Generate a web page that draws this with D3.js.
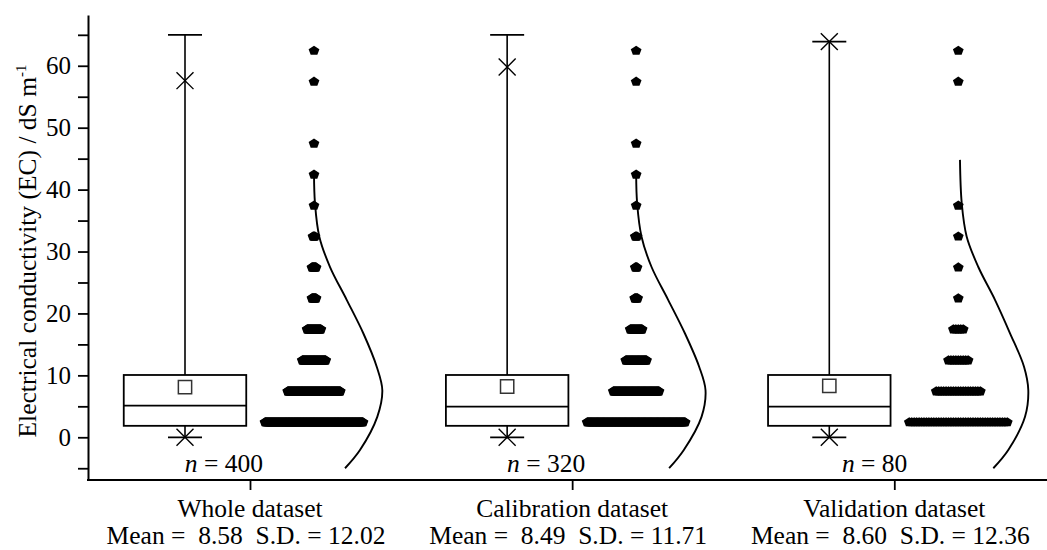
<!DOCTYPE html>
<html>
<head>
<meta charset="utf-8">
<script src="https://cdn.jsdelivr.net/npm/d3@7"></script>
<style>
  body { margin: 0; background: #fff; }
  svg { display: block; }
  svg text { font-family: "Liberation Serif", "Times New Roman", serif; fill: #000; }
</style>
</head>
<body>
<div id="chart"></div>
<script>
// groups
var categories = ["Whole dataset", "Calibration dataset", "Validation dataset"];
var sampleSizes = [400, 320, 80];
var means = ["8.58", "8.49", "8.60"];
var sds = ["12.02", "11.71", "12.36"];

// box stats (EC, dS/m)
var q1 = [1.85, 1.85, 1.85];
var medians = [5.1, 4.95, 4.95];
var q3 = [10.06, 10.06, 10.06];
var meanMarks = [8.1, 8.2, 8.3];
var whiskerLow = [0, 0, 0];
var whiskerHigh = [65, 65, 63.9];
var pctLow = [0, 0, 0];
var pctHigh = [57.6, 59.8, 63.9];

// binned data points (bin centres) and counts per group
var binCenters = [2.5, 7.5, 12.5, 17.5, 22.5, 27.5, 32.5, 37.5, 42.5, 47.5, 52.5, 57.5, 62.5];
var wholeCounts = [193, 104, 47, 28, 9, 9, 5, 1, 1, 1, 0, 1, 1];
var calibCounts = [166, 78, 36, 21, 6, 4, 4, 1, 1, 1, 0, 1, 1];
var validCounts = [41, 19, 9, 5, 1, 1, 1, 1, 0, 0, 0, 1, 1];

// distribution curves: EC level and relative density
var wholeCurveEC = [42.6, 37.8, 32.4, 27.5, 22.2, 16.8, 11.4, 7.6, 3.3, -2.05, -5];
var wholeCurveDens = [0, 0.014, 0.076, 0.229, 0.467, 0.704, 0.896, 0.976, 0.904, 0.657, 0.443];
var calibCurveEC = [42.6, 37.8, 32.4, 27.5, 22.2, 16.8, 11.4, 7.6, 3.3, -2.05, -5];
var calibCurveDens = [0, 0.014, 0.077, 0.22, 0.457, 0.696, 0.9, 0.991, 0.934, 0.681, 0.471];
var validCurveEC = [44.8, 37.8, 32.4, 27.5, 22.2, 16.8, 11.4, 7.6, 3.3, -2.05, -5];
var validCurveDens = [0.024, 0.049, 0.12, 0.286, 0.524, 0.739, 0.939, 1.0, 0.953, 0.714, 0.5];

var majorTicks = [0, 10, 20, 30, 40, 50, 60];
var minorTicks = [-5, 5, 15, 25, 35, 45, 55, 65];

var counts = [wholeCounts, calibCounts, validCounts];
var curves = [[wholeCurveEC, wholeCurveDens], [calibCurveEC, calibCurveDens], [validCurveEC, validCurveDens]];

// layout
var W = 1047, H = 550;
var axisLeftX = 88, axisBottomY = 480;
var boxOffset = -65, boxWidth = 122.5, capWidth = 34;
var dotOffset = 64, rowSpan = 98;

var svg = d3.select("#chart").append("svg")
    .attr("width", W)
    .attr("height", H);

var y = d3.scaleLinear().domain([-6.9, 68.2]).range([axisBottomY, 15]);
var x = d3.scalePoint().domain(categories).range([250, 894.3]);
var dens = d3.scaleLinear().domain([0, 1]).range([dotOffset, dotOffset + 70]);

// y axis
var yAxis = svg.append("g")
    .attr("transform", "translate(" + axisLeftX + ",0)")
    .call(d3.axisLeft(y).tickValues(majorTicks).tickSize(10).tickSizeOuter(0).tickPadding(7).tickFormat(d3.format("d")));
yAxis.attr("font-family", null);
yAxis.select(".domain").attr("stroke-width", 2);
yAxis.selectAll(".tick line").attr("stroke-width", 1.8);
yAxis.selectAll(".tick text")
    .attr("font-size", 25);

svg.append("g")
    .attr("transform", "translate(" + axisLeftX + ",0)")
    .call(d3.axisLeft(y).tickValues(minorTicks).tickSize(10).tickFormat(""))
    .call(function(g) { g.select(".domain").remove(); })
    .selectAll(".tick line").attr("stroke-width", 1.8);

// x axis
svg.append("line")
    .attr("x1", axisLeftX - 1).attr("x2", W)
    .attr("y1", axisBottomY).attr("y2", axisBottomY)
    .attr("stroke", "#000").attr("stroke-width", 2);

var xAxis = svg.append("g")
    .attr("transform", "translate(0," + axisBottomY + ")")
    .call(d3.axisBottom(x).tickSize(10).tickFormat(""));
xAxis.select(".domain").remove();
xAxis.selectAll(".tick line").attr("stroke-width", 1.8);

svg.selectAll(".catlabel")
    .data(categories)
    .enter()
    .append("text")
    .attr("x", function(d) { return x(d); })
    .attr("y", 517)
    .attr("text-anchor", "middle")
    .attr("font-size", 25.5)
    .text(function(d) { return d; });

svg.selectAll(".statlabel")
    .data(categories)
    .enter()
    .append("text")
    .attr("x", function(d) { return x(d) - 4; })
    .attr("y", 544)
    .attr("text-anchor", "middle")
    .attr("font-size", 25.5)
    .style("white-space", "pre")
    .text(function(d, i) { return "Mean =  " + means[i] + "  S.D. = " + sds[i]; });

// y title
var ytitle = svg.append("text")
    .attr("transform", "translate(35.5,251) rotate(-90)")
    .attr("text-anchor", "middle")
    .attr("font-size", 25.5);
ytitle.append("tspan").text("Electrical conductivity (EC) / dS m");
ytitle.append("tspan").attr("font-size", 15).attr("dy", -10).text("-1");

// boxes
var groups = svg.selectAll(".grp")
    .data(categories)
    .enter()
    .append("g")
    .attr("class", "grp");

groups.append("line")
    .attr("x1", function(d) { return x(d) + boxOffset; })
    .attr("x2", function(d) { return x(d) + boxOffset; })
    .attr("y1", function(d, i) { return y(q3[i]); })
    .attr("y2", function(d, i) { return y(whiskerHigh[i]); })
    .attr("stroke", "#000").attr("stroke-width", 1.6);

groups.append("line")
    .attr("x1", function(d) { return x(d) + boxOffset; })
    .attr("x2", function(d) { return x(d) + boxOffset; })
    .attr("y1", function(d, i) { return y(q1[i]); })
    .attr("y2", function(d, i) { return y(whiskerLow[i]); })
    .attr("stroke", "#000").attr("stroke-width", 1.6);

[whiskerHigh, whiskerLow].forEach(function(arr) {
  groups.append("line")
      .attr("x1", function(d) { return x(d) + boxOffset - capWidth / 2; })
      .attr("x2", function(d) { return x(d) + boxOffset + capWidth / 2; })
      .attr("y1", function(d, i) { return y(arr[i]); })
      .attr("y2", function(d, i) { return y(arr[i]); })
      .attr("stroke", "#000").attr("stroke-width", 1.8);
});

groups.append("rect")
    .attr("x", function(d) { return x(d) + boxOffset - boxWidth / 2; })
    .attr("y", function(d, i) { return y(q3[i]); })
    .attr("width", boxWidth)
    .attr("height", function(d, i) { return y(q1[i]) - y(q3[i]); })
    .attr("fill", "#fff").attr("stroke", "#000").attr("stroke-width", 1.8);

groups.append("line")
    .attr("x1", function(d) { return x(d) + boxOffset - boxWidth / 2; })
    .attr("x2", function(d) { return x(d) + boxOffset + boxWidth / 2; })
    .attr("y1", function(d, i) { return y(medians[i]); })
    .attr("y2", function(d, i) { return y(medians[i]); })
    .attr("stroke", "#000").attr("stroke-width", 1.8);

groups.append("path")
    .attr("transform", function(d, i) { return "translate(" + (x(d) + boxOffset) + "," + y(meanMarks[i]) + ")"; })
    .attr("d", d3.symbol().type(d3.symbolSquare).size(176))
    .attr("fill", "#fff").attr("stroke", "#333").attr("stroke-width", 1.5);

[pctHigh, pctLow].forEach(function(arr) {
  groups.append("path")
      .attr("transform", function(d, i) { return "translate(" + (x(d) + boxOffset) + "," + y(arr[i]) + ")"; })
      .attr("d", d3.symbol().type(d3.symbolTimes).size(190))
      .attr("fill", "none").attr("stroke", "#000").attr("stroke-width", 1.4);
});

// n labels
var nl = groups.append("text")
    .attr("x", function(d) { return x(d) + 13; })
    .attr("y", 472)
    .attr("text-anchor", "end")
    .attr("font-size", 25.5);
nl.append("tspan").attr("font-style", "italic").text("n");
nl.append("tspan").text(function(d, i) { return " = " + sampleSizes[i]; });

// pentagon markers
var pentagon = {
  draw: function(ctx, size) {
    var r = Math.sqrt(size);
    for (var k = 0; k < 5; k++) {
      var a = -Math.PI / 2 + k * 2 * Math.PI / 5;
      var px = r * Math.cos(a), py = r * Math.sin(a) * 0.9 + 0.08 * r;
      if (k === 0) ctx.moveTo(px, py); else ctx.lineTo(px, py);
    }
    ctx.closePath();
  }
};

categories.forEach(function(cat, gi) {
  var c = counts[gi];
  var step = rowSpan / (d3.max(c) - 1);
  var pts = [];
  binCenters.forEach(function(b, bi) {
    d3.range(c[bi]).forEach(function(k) {
      pts.push({ v: b, dx: (k - (c[bi] - 1) / 2) * step });
    });
  });
  svg.append("g").selectAll("path")
      .data(pts)
      .enter()
      .append("path")
      .attr("transform", function(d) { return "translate(" + (x(cat) + dotOffset + d.dx) + "," + y(d.v) + ")"; })
      .attr("d", d3.symbol().type(pentagon).size(32))
      .attr("fill", "#000");

  var line = d3.line()
      .x(function(d) { return x(cat) + dens(d[1]); })
      .y(function(d) { return y(d[0]); })
      .curve(d3.curveCatmullRom);
  svg.append("path")
      .datum(d3.zip(curves[gi][0], curves[gi][1]))
      .attr("d", line)
      .attr("fill", "none")
      .attr("stroke", "#000")
      .attr("stroke-width", 1.9);
});
</script>
</body>
</html>
